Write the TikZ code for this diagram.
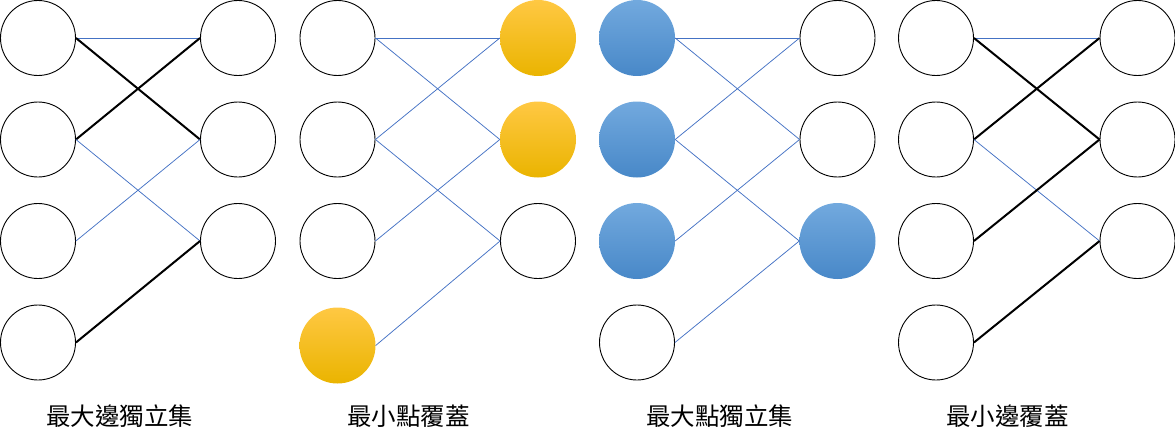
\documentclass[tikz,border=0pt]{standalone}
\usepackage{fontspec}
\newfontfamily\cjk{Noto Sans CJK TC}
\definecolor{edgeblue}{HTML}{4472C4}
\definecolor{goldtop}{HTML}{FFC843}
\definecolor{goldmid}{HTML}{FFC300}
\definecolor{goldbot}{HTML}{EAB400}
\definecolor{bluetop}{HTML}{72A9DE}
\definecolor{bluemid}{HTML}{5B9BD5}
\definecolor{bluebot}{HTML}{4888C8}
\begin{document}
\begin{tikzpicture}[x=1pt,y=-1pt,
  vtx/.style={circle,draw=black,line width=0.9pt,minimum size=75pt,inner sep=0pt,fill=white},
  goldvtx/.style={circle,minimum size=76pt,inner sep=0pt,top color=goldtop,middle color=goldmid,bottom color=goldbot},
  bluevtx/.style={circle,minimum size=76pt,inner sep=0pt,top color=bluetop,middle color=bluemid,bottom color=bluebot},
  thinedge/.style={draw=edgeblue,line width=0.75pt},
  thickedge/.style={draw=black,line width=2pt},
  lbl/.style={font=\cjk\fontsize{24.5}{28}\selectfont,inner sep=0pt,anchor=center}]
\useasboundingbox (0,0) rectangle (1175,444);

% Panel 1
\node[vtx] (a1) at (38,38) {};
\node[vtx] (a2) at (38,139.5) {};
\node[vtx] (a3) at (38,241) {};
\node[vtx] (a4) at (38,342.5) {};
\node[vtx] (ar1) at (238,38) {};
\node[vtx] (ar2) at (238,139.5) {};
\node[vtx] (ar3) at (238,241) {};
\draw[thinedge] (a1.east) -- (ar1.west);
\draw[thickedge] (a1.east) -- (ar2.west);
\draw[thickedge] (a2.east) -- (ar1.west);
\draw[thinedge] (a2.east) -- (ar3.west);
\draw[thinedge] (a3.east) -- (ar2.west);
\draw[thickedge] (a4.east) -- (ar3.west);

% Panel 2
\node[vtx] (b1) at (337.5,38) {};
\node[vtx] (b2) at (337.5,139.5) {};
\node[vtx] (b3) at (337.5,241) {};
\node[goldvtx] (b4) at (337.5,345.5) {};
\node[goldvtx] (br1) at (538,38) {};
\node[goldvtx] (br2) at (538,139.5) {};
\node[vtx] (br3) at (538,241) {};
\draw[thinedge] (b1.east) -- (br1.west);
\draw[thinedge] (b1.east) -- (br2.west);
\draw[thinedge] (b2.east) -- (br1.west);
\draw[thinedge] (b2.east) -- (br3.west);
\draw[thinedge] (b3.east) -- (br2.west);
\draw[thinedge] (b4.east) -- (br3.west);

% Panel 3
\node[bluevtx] (c1) at (637,38) {};
\node[bluevtx] (c2) at (637,139.5) {};
\node[bluevtx] (c3) at (637,241) {};
\node[vtx] (c4) at (637,342.5) {};
\node[vtx] (cr1) at (837.5,38) {};
\node[vtx] (cr2) at (837.5,139.5) {};
\node[bluevtx] (cr3) at (837.5,241) {};
\draw[thinedge] (c1.east) -- (cr1.west);
\draw[thinedge] (c1.east) -- (cr2.west);
\draw[thinedge] (c2.east) -- (cr1.west);
\draw[thinedge] (c2.east) -- (cr3.west);
\draw[thinedge] (c3.east) -- (cr2.west);
\draw[thinedge] (c4.east) -- (cr3.west);

% Panel 4
\node[vtx] (d1) at (936,38) {};
\node[vtx] (d2) at (936,139.5) {};
\node[vtx] (d3) at (936,241) {};
\node[vtx] (d4) at (936,342.5) {};
\node[vtx] (dr1) at (1137.5,38) {};
\node[vtx] (dr2) at (1137.5,139.5) {};
\node[vtx] (dr3) at (1137.5,241) {};
\draw[thinedge] (d1.east) -- (dr1.west);
\draw[thickedge] (d1.east) -- (dr2.west);
\draw[thickedge] (d2.east) -- (dr1.west);
\draw[thinedge] (d2.east) -- (dr3.west);
\draw[thickedge] (d3.east) -- (dr2.west);
\draw[thickedge] (d4.east) -- (dr3.west);

% Labels
\node[lbl] (t1) at (119.5,416) {最大邊獨立集};
\node[lbl] (t2) at (408.5,416) {最小點覆蓋};
\node[lbl] (t3) at (719.5,416) {最大點獨立集};
\node[lbl] (t4) at (1007.5,416) {最小邊覆蓋};
\end{tikzpicture}
\end{document}
